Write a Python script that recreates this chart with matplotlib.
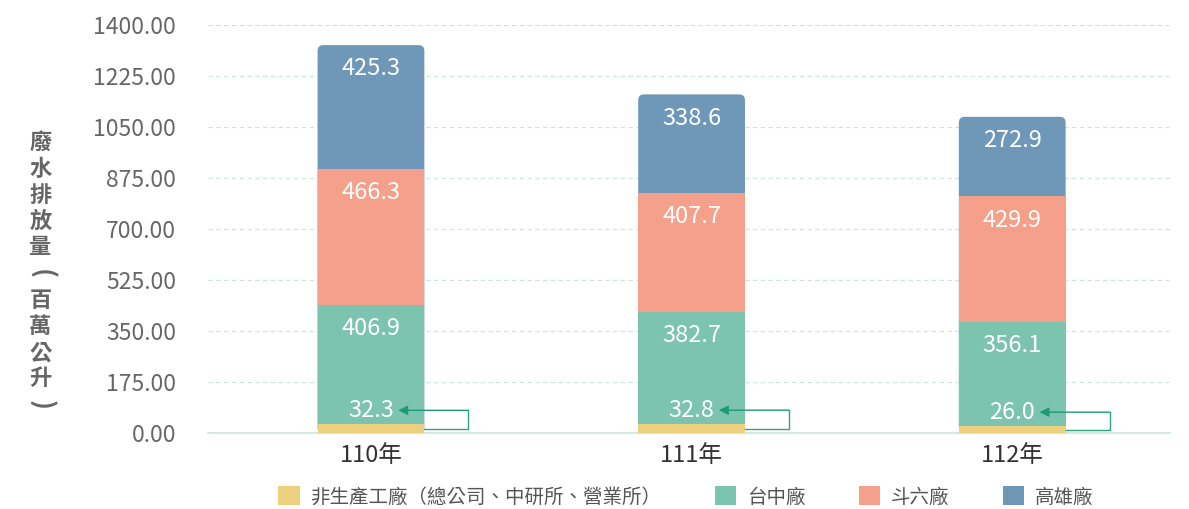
import matplotlib
matplotlib.use("Agg")
import matplotlib.pyplot as plt
from matplotlib.patches import FancyBboxPatch, Patch

plt.rcParams['font.family'] = ['Noto Sans CJK TC', 'DejaVu Sans']

years = ['110年', '111年', '112年']
series = ['非生產工廠（總公司、中研所、營業所）', '台中廠', '斗六廠', '高雄廠']
values = [
    [32.3, 32.8, 26.0],
    [406.9, 382.7, 356.1],
    [466.3, 407.7, 429.9],
    [425.3, 338.6, 272.9],
]
colors = ['#EDD07E', '#7DC4B0', '#F5A08A', '#6E97B8']
yticks = [0, 175, 350, 525, 700, 875, 1050, 1225, 1400]

fig = plt.figure(figsize=(11.89, 5.09), dpi=100)
ax = fig.add_axes([0.175, 0.149, 0.809, 0.802])

x = range(len(years))
w = 0.333
bottoms = [0.0] * len(years)
for i, (name, vals, c) in enumerate(zip(series, values, colors)):
    if i == len(series) - 1:
        # top segment: rounded box from the axis up, lower segments cover it
        for j, v in enumerate(vals):
            p = FancyBboxPatch((j - w / 2, 0), w, bottoms[j] + v,
                               boxstyle="round,pad=0,rounding_size=0.018",
                               mutation_aspect=1100, fc=c, ec='none', zorder=2.5)
            ax.add_patch(p)
    else:
        ax.bar(x, vals, w, bottom=bottoms, color=c, zorder=3)
    for j, v in enumerate(vals):
        top = bottoms[j] + v
        if i == 0:
            ly = top + 46
            ax.text(j, ly, f'{v:.1f}', ha='center', va='center',
                    color='white', fontsize=17, zorder=5)
            xr = j + w / 2 + 0.137
            ax.plot([j + w / 2, xr, xr], [top * 0.45, top * 0.45, ly],
                    color='#2EA37F', lw=1, zorder=4, clip_on=False)
            ax.annotate('', xy=(j + 0.085, ly), xytext=(xr, ly),
                        arrowprops=dict(arrowstyle='-|>', color='#1E9A72',
                                        lw=1, mutation_scale=14,
                                        shrinkA=0, shrinkB=0), zorder=5)
        else:
            ax.annotate(f'{v:.1f}', (j, top), xytext=(0, -17),
                        textcoords='offset points', ha='center', va='center',
                        color='white', fontsize=17, zorder=5)
        bottoms[j] = top

ax.set_xlim(-0.508, 2.492)
ax.set_ylim(0, 1400)
ax.set_yticks(yticks)
ax.set_yticklabels([f'{t:.2f}' for t in yticks])
ax.set_xticks(list(x))
ax.set_xticklabels(years)
ax.tick_params(axis='y', length=0, pad=23, labelsize=16.5, labelcolor='#666666')
ax.tick_params(axis='x', length=0, pad=8, labelsize=17, labelcolor='#333333')
ax.grid(axis='y', color='#C8E6DF', linestyle=(0, (4, 3)), lw=0.8, zorder=0)
for s in ['top', 'right', 'left']:
    ax.spines[s].set_visible(False)
ax.spines['bottom'].set_color('#C8E6DF')
ax.spines['bottom'].set_linewidth(1.2)

# vertical y-axis title, one character per line
ylabel = '廢水排放量(百萬公升)'
y0, step = 1 - 143 / 509, 26.2 / 509
for k, ch in enumerate(ylabel):
    rot = -90 if ch in '()' else 0
    fig.text(0.034, y0 - k * step, ch, ha='center', va='center', rotation=rot,
             fontsize=16 if rot == 0 else 19, fontweight='bold', color='#666666')

handles = [Patch(facecolor=c, edgecolor='none') for c in colors]
fig.legend(handles, series, loc='center', bbox_to_anchor=(0.577, 0.024),
           ncol=4, frameon=False, fontsize=14, handlelength=1.1,
           handleheight=1.1, handletextpad=0.55, columnspacing=2.75,
           labelcolor='#555555')

fig.savefig('out.png', dpi=100)
